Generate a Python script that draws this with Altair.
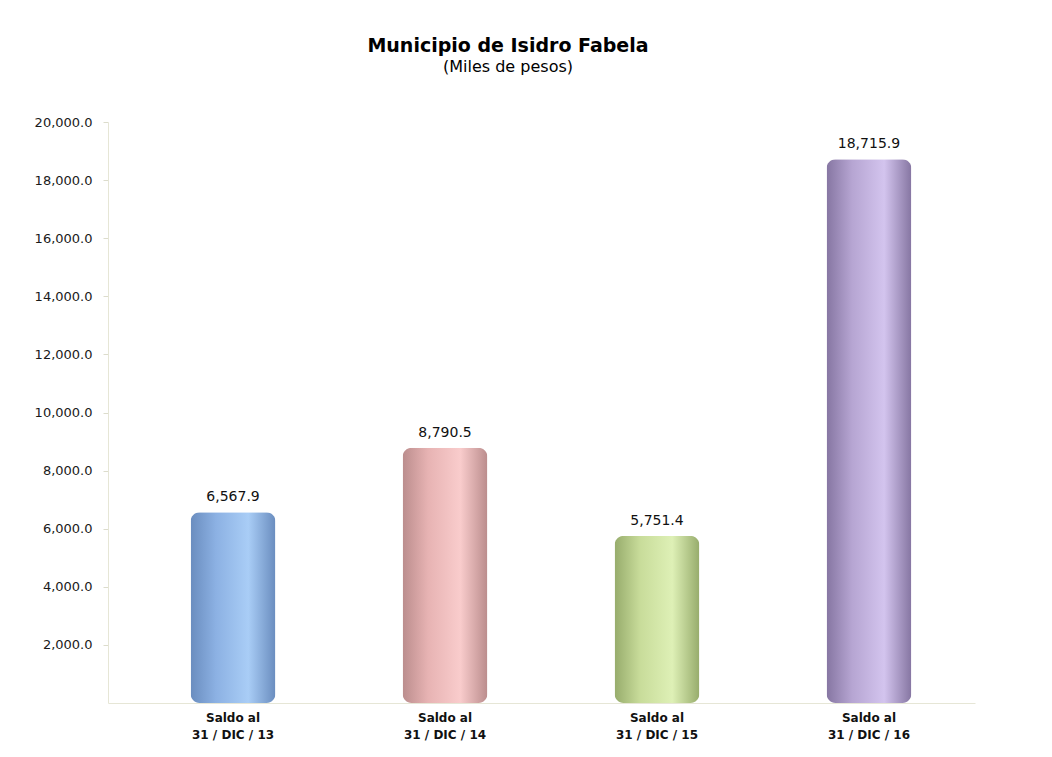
import altair as alt
import pandas as pd

categories = ["Saldo al|31 / DIC / 13", "Saldo al|31 / DIC / 14",
              "Saldo al|31 / DIC / 15", "Saldo al|31 / DIC / 16"]
values = [6567.9, 8790.5, 5751.4, 18715.9]
bar_edges = ["#6a8dbf", "#bb8d8d", "#97ac6c", "#8676a2"]
bar_mids = ["#8cb1e3", "#e7b3b3", "#c8dc9a", "#b6a5d2"]
bar_lights = ["#a9cdf6", "#f9cccc", "#def0b6", "#d3c4ee"]
y_ticks = [2000, 4000, 6000, 8000, 10000, 12000, 14000, 16000, 18000, 20000]

df = pd.DataFrame({"cat": categories, "value": values})

FONT = "DejaVu Sans"

x_enc = alt.X("cat:N", sort=categories,
              scale=alt.Scale(domain=categories, range=[0, 867], paddingInner=0.6,
                              paddingOuter=0.345, align=0.565),
              axis=alt.Axis(title=None, labelAngle=0, ticks=False, domainColor="#e6e6d6",
                            labelExpr="split(datum.label, '|')", labelFont=FONT,
                            labelFontSize=12, labelFontWeight="bold", labelColor="#111111",
                            labelPadding=9, labelLineHeight=17, labelBaseline="top"))
y_enc = alt.Y("value:Q", scale=alt.Scale(domain=[0, 20000], nice=False),
              axis=alt.Axis(title=None, values=y_ticks, format=",.1f", grid=False,
                            labelFont=FONT, labelFontSize=13, labelColor="#1a1a1a",
                            tickColor="#dcdccc", tickSize=5, labelPadding=11,
                            domainColor="#e6e6d6"))

layers = []
for i, c in enumerate(categories):
    grad = alt.LinearGradient(
        gradient="linear", x1=0, x2=1, y1=0, y2=0,
        stops=[alt.GradientStop(offset=0, color=bar_edges[i]),
               alt.GradientStop(offset=0.3, color=bar_mids[i]),
               alt.GradientStop(offset=0.68, color=bar_lights[i]),
               alt.GradientStop(offset=1, color=bar_edges[i])])
    layers.append(
        alt.Chart(df).transform_filter(alt.datum.cat == c)
        .mark_bar(color=grad, cornerRadius=9)
        .encode(x=x_enc, y=y_enc)
    )

text = alt.Chart(df).mark_text(baseline="bottom", dy=-8, font=FONT, fontSize=14,
                               color="#111111").encode(
    x=x_enc, y=y_enc, text=alt.Text("value:Q", format=",.1f"))

chart = alt.layer(*layers, text).properties(
    width=870, height=581,
    title=alt.TitleParams(text="Municipio de Isidro Fabela", subtitle="(Miles de pesos)",
                          font=FONT, fontSize=19, fontWeight="bold", color="#000000",
                          subtitleFont=FONT, subtitleFontSize=16, subtitleColor="#000000",
                          subtitlePadding=3, anchor="middle", dx=-35, offset=41),
    autosize=alt.AutoSizeParams(type="none"),
    padding={"left": 100, "top": 114, "right": 60, "bottom": 40},
).configure(background="white").configure_view(stroke=None, strokeWidth=0)

chart.save("out.html", embed_options={"renderer": "svg", "actions": False})
